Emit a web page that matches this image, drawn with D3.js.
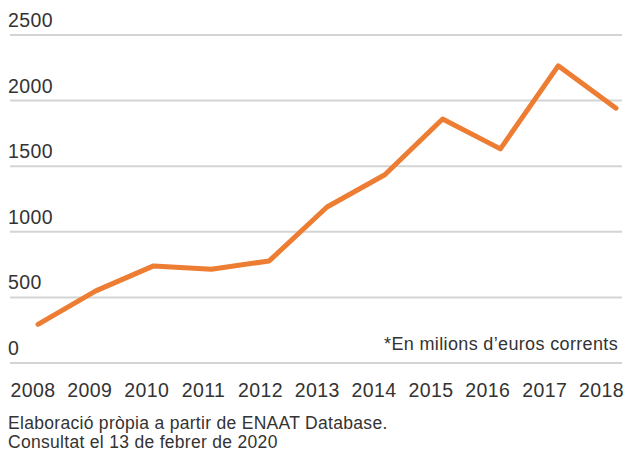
<!DOCTYPE html>
<html>
<head>
<meta charset="utf-8">
<script src="https://cdn.jsdelivr.net/npm/d3@7"></script>
<style>
  body { margin: 0; background: #fff; }
  svg { display: block; font-family: "Liberation Sans", Arial, sans-serif; }
</style>
</head>
<body>
<div id="chart"></div>
<script>
const years = [2008, 2009, 2010, 2011, 2012, 2013, 2014, 2015, 2016, 2017, 2018];
const values = [295, 550, 740, 715, 778, 1189, 1435, 1860, 1632, 2265, 1942];
const yTicks = [0, 500, 1000, 1500, 2000, 2500];
const note = "*En milions d\u2019euros corrents";
const source = [
  "Elaboraci\u00f3 pr\u00f2pia a partir de ENAAT Database.",
  "Consultat el 13 de febrer de 2020",
];

const width = 625;
const height = 451;
const textColor = "#333";

const x = d3.scaleLinear().domain([2008, 2018]).range([38, 616]);
const xLabel = d3.scaleLinear().domain([2008, 2018]).range([32.5, 601]);
const y = d3.scaleLinear().domain([0, 2500]).range([363, 35]);

const svg = d3
  .select("#chart")
  .append("svg")
  .attr("width", width)
  .attr("height", height);

// gridlines + left labels
const gGrid = svg.append("g").attr("class", "grid");
gGrid
  .selectAll("line")
  .data(yTicks)
  .join("line")
  .attr("x1", 10)
  .attr("x2", 622)
  .attr("y1", (d) => y(d))
  .attr("y2", (d) => y(d))
  .attr("stroke", "#d4d4d4")
  .attr("stroke-width", 2);

gGrid
  .selectAll("text")
  .data(yTicks)
  .join("text")
  .attr("x", 8)
  .attr("y", (d) => y(d) - 8)
  .attr("fill", textColor)
  .attr("font-size", 19.5)
  .attr("letter-spacing", 0.4)
  .text((d) => d);

// year labels
svg
  .append("g")
  .attr("class", "axis axis-x")
  .attr("transform", "translate(0,380)")
  .call(d3.axisBottom(xLabel).tickValues(years).tickFormat(d3.format("d")).tickSize(0))
  .call((g) => g.select(".domain").remove())
  .call((g) =>
    g
      .selectAll("text")
      .attr("dy", null)
      .attr("y", 17)
      .attr("fill", textColor)
      .attr("font-size", 19.5)
      .attr("letter-spacing", 0.4)
      .attr("font-family", "Liberation Sans, Arial, sans-serif")
  );

// series
const line = d3
  .line()
  .x((d) => x(d[0]))
  .y((d) => y(d[1]));

svg
  .append("path")
  .datum(years.map((yr, i) => [yr, values[i]]))
  .attr("fill", "none")
  .attr("stroke", "#ec7d33")
  .attr("stroke-width", 5)
  .attr("stroke-linecap", "round")
  .attr("stroke-linejoin", "round")
  .attr("d", line);

// note
svg
  .append("text")
  .attr("x", 618)
  .attr("y", 350)
  .attr("text-anchor", "end")
  .attr("fill", textColor)
  .attr("font-size", 18)
  .attr("letter-spacing", 0.35)
  .text(note);

// source
svg
  .append("g")
  .selectAll("text")
  .data(source)
  .join("text")
  .attr("x", 8)
  .attr("y", (d, i) => 429 + i * 18.5)
  .attr("fill", textColor)
  .attr("font-size", 17.5)
  .attr("letter-spacing", 0.3)
  .text((d) => d);
</script>
</body>
</html>
